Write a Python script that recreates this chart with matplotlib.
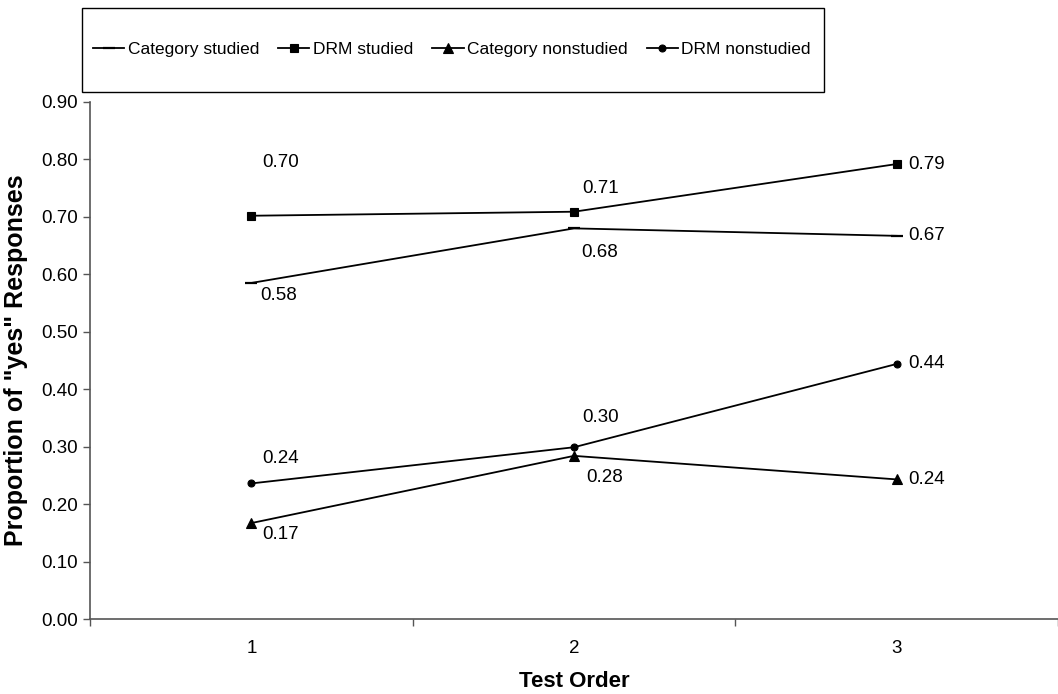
import matplotlib.pyplot as plt
from matplotlib.patches import Rectangle

plt.rcParams['font.family'] = ['Liberation Sans', 'DejaVu Sans']

test_order = [1, 2, 3]
category_studied = [0.585, 0.680, 0.667]
drm_studied = [0.702, 0.709, 0.792]
category_nonstudied = [0.167, 0.284, 0.243]
drm_nonstudied = [0.236, 0.299, 0.444]

series_names = ["Category studied", "DRM studied", "Category nonstudied", "DRM nonstudied"]
y_ticks = [0.0, 0.1, 0.2, 0.3, 0.4, 0.5, 0.6, 0.7, 0.8, 0.9]

fig = plt.figure(figsize=(10.58, 6.94), dpi=100)
ax = fig.add_axes([90/1058, 1 - 619/694, 1 - 90/1058, (619 - 102)/694])

all_series = [category_studied, drm_studied, category_nonstudied, drm_nonstudied]
markers = ['_', 's', '^', 'o']
msizes = [8, 6, 7, 5]
# label offsets in pixels (dx, dy), left aligned text, centered vertically
offsets = [
    [(9, -13), (7, -24), (12, 0)],
    [(11, 53), (8, 23), (12, 0)],
    [(11, -11), (12, -22), (12, 0)],
    [(11, 25), (8, 30), (12, 0)],
]

handles = []
for vals, name, m, ms, offs in zip(all_series, series_names, markers, msizes, offsets):
    h, = ax.plot(test_order, vals, color='black', lw=1.3, marker=m, markersize=ms,
                 markeredgewidth=1.6 if m == '_' else 0.8, label=name, clip_on=False)
    handles.append(h)
    for x, v, (dx, dy) in zip(test_order, vals, offs):
        ax.annotate("%.2f" % v, (x, v), xytext=(dx, dy), textcoords='offset pixels',
                    ha='left', va='center', fontsize=13.5)

ax.set_xlim(0.5, 3.5)
ax.set_ylim(0, 0.9)
ax.set_yticks(y_ticks)
ax.set_yticklabels(["%.2f" % t for t in y_ticks], fontsize=13.5)
ax.set_xticks(test_order)
ax.set_xticklabels([str(t) for t in test_order], fontsize=13.5)
ax.set_xticks([0.5, 1.5, 2.5, 3.5], minor=True)
ax.tick_params(axis='x', which='major', length=0, pad=15)
ax.tick_params(axis='x', which='minor', length=5, color='#555555', width=1)
ax.tick_params(axis='y', length=5, color='#555555', width=1, pad=4)
for s in ['top', 'right']:
    ax.spines[s].set_visible(False)
for s in ['left', 'bottom']:
    ax.spines[s].set_color('#555555')
    ax.spines[s].set_linewidth(1.2)

ax.set_xlabel("Test Order", fontsize=16, fontweight='bold', labelpad=10)
ax.set_ylabel('Proportion of "yes" Responses', fontsize=18, fontweight='bold', labelpad=9)

# legend box
fig.patches.append(Rectangle((82/1058, 1 - 92/694), (824 - 82)/1058, (92 - 8)/694,
                             transform=fig.transFigure, fill=False, edgecolor='black', lw=1))
fig.legend(handles=handles, loc='center', bbox_to_anchor=(452/1058, 1 - 49/694),
           ncol=4, frameon=False, fontsize=12.5, handlelength=1.8, handletextpad=0.2,
           columnspacing=1.1)

fig.savefig("out.png", dpi=100)
